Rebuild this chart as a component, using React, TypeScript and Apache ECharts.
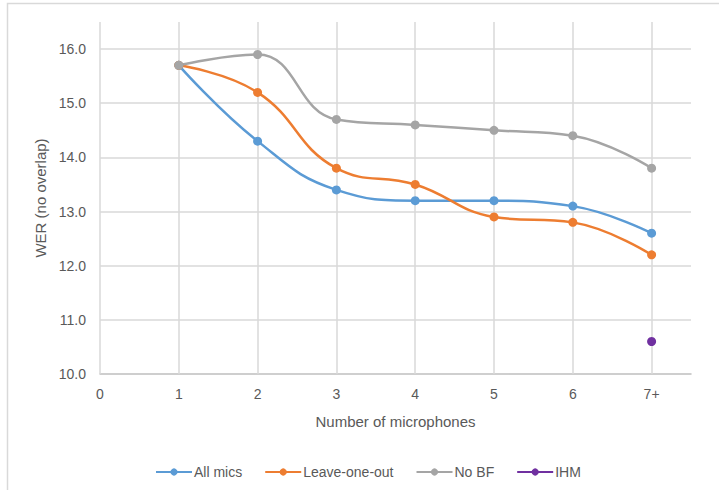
import React, { useEffect, useRef } from "react";
import * as echarts from "echarts";

const micCounts = [1, 2, 3, 4, 5, 6, 7];
const allMics = [15.7, 14.3, 13.4, 13.2, 13.2, 13.1, 12.6];
const leaveOneOut = [15.7, 15.2, 13.8, 13.5, 12.9, 12.8, 12.2];
const noBF = [15.7, 15.9, 14.7, 14.6, 14.5, 14.4, 13.8];
const ihmX = [7];
const ihm = [10.6];
const xTicks = [0, 1, 2, 3, 4, 5, 6, 7];
const yTicks = [11, 12, 13, 14, 15, 16];

const FONT = "Liberation Sans";
const TXT = "#595959";
const GRID = "#d9d9d9";

export default function App() {
  const ref = useRef<HTMLDivElement>(null);
  useEffect(() => {
    if (!ref.current) return;
    const chart = echarts.init(ref.current, undefined, { renderer: "svg" });
    const pairs = (xs: number[], ys: number[]) => xs.map((x, i) => [x, ys[i]]);
    const lineSeries = (name: string, color: string, data: number[][]) => ({
      name,
      type: "line",
      data,
      smooth: 0.45,
      symbol: "circle",
      symbolSize: 9,
      showSymbol: true,
      lineStyle: { color, width: 2.5 },
      itemStyle: { color, borderWidth: 0, borderColor: color },
      emphasis: { disabled: true },
      z: 3,
    });
    chart.setOption({
      animation: false,
      backgroundColor: "#ffffff",
      textStyle: { fontFamily: FONT },
      graphic: [
        {
          type: "rect",
          shape: { x: 7.5, y: 3.5, width: 800, height: 600 },
          style: { fill: "none", stroke: "#d9d9d9", lineWidth: 1.5 },
          silent: true,
          z: -10,
        },
      ],
      grid: { left: 100, right: 28, top: 22, bottom: 116 },
      legend: {
        top: 460,
        left: 150,
        itemWidth: 36,
        itemHeight: 9,
        itemGap: 22,
        data: ["All mics", "Leave-one-out", "No BF", "IHM"],
        textStyle: { color: TXT, fontSize: 14, fontFamily: FONT, padding: [0, 0, 0, -3] },
      },
      xAxis: {
        type: "value",
        min: 0,
        max: 7.5,
        interval: 1,
        name: "Number of microphones",
        nameLocation: "middle",
        nameGap: 40,
        nameTextStyle: { color: TXT, fontSize: 15, fontFamily: FONT },
        axisLine: { show: true, lineStyle: { color: "#bfbfbf", width: 1.5 } },
        axisTick: { show: false },
        splitLine: { show: false },
        axisLabel: {
          color: TXT,
          fontSize: 14,
          margin: 13,
          fontFamily: FONT,
          formatter: (v: number) =>
            Number.isInteger(v) ? (v === 7 ? "7+" : String(v)) : "",
        },
      },
      yAxis: {
        type: "value",
        min: 10,
        max: 16.5,
        interval: 1,
        name: "WER (no overlap)",
        nameLocation: "middle",
        nameGap: 50,
        nameTextStyle: { color: TXT, fontSize: 15, fontFamily: FONT },
        axisLine: { show: false },
        axisTick: { show: false },
        splitLine: { show: false },
        axisLabel: {
          color: TXT,
          fontSize: 14,
          margin: 14,
          fontFamily: FONT,
          formatter: (v: number) => (Number.isInteger(v) ? v.toFixed(1) : ""),
        },
      },
      series: [
        {
          name: "grid",
          type: "line",
          data: [],
          silent: true,
          z: 1,
          markLine: {
            silent: true,
            z: 1,
            symbol: ["none", "none"],
            label: { show: false },
            lineStyle: { color: GRID, width: 1.5, type: "solid" },
            data: [
              ...xTicks.map((x) => ({ xAxis: x })),
              ...yTicks.map((y) => ({ yAxis: y })),
            ],
          },
        },
        lineSeries("All mics", "#5B9BD5", pairs(micCounts, allMics)),
        lineSeries("Leave-one-out", "#ED7D31", pairs(micCounts, leaveOneOut)),
        lineSeries("No BF", "#A5A5A5", pairs(micCounts, noBF)),
        lineSeries("IHM", "#7030A0", pairs(ihmX, ihm)),
      ],
    });
    return () => chart.dispose();
  }, []);
  return (
    <div
      ref={ref}
      style={{ position: "absolute", left: 0, top: 0, width: 719, height: 490 }}
    />
  );
}
